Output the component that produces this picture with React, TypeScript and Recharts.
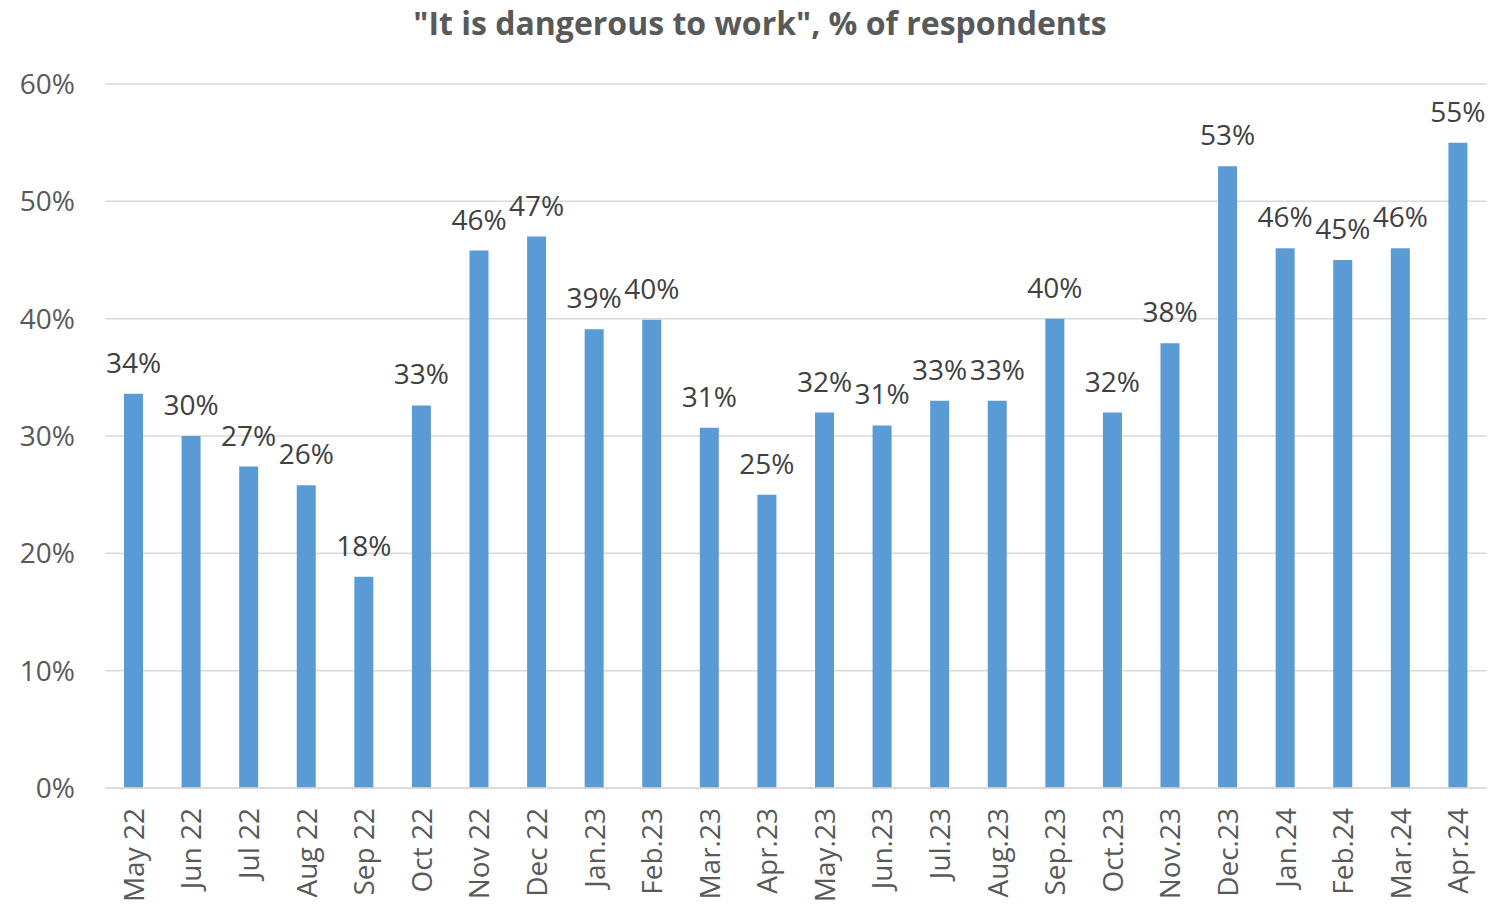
import { BarChart, Bar, XAxis, YAxis, CartesianGrid, LabelList } from 'recharts';

const months = [
  'May 22', 'Jun 22', 'Jul 22', 'Aug 22', 'Sep 22', 'Oct 22', 'Nov 22', 'Dec 22',
  'Jan.23', 'Feb.23', 'Mar.23', 'Apr.23', 'May.23', 'Jun.23', 'Jul.23', 'Aug.23',
  'Sep.23', 'Oct.23', 'Nov.23', 'Dec.23', 'Jan.24', 'Feb.24', 'Mar.24', 'Apr.24',
];

// share of respondents, %
const dangerous = [
  33.6, 30.0, 27.4, 25.8, 18.0, 32.6, 45.8, 47.0,
  39.1, 39.9, 30.7, 25.0, 32.0, 30.9, 33.0, 33.0,
  40.0, 32.0, 37.9, 53.0, 46.0, 45.0, 46.0, 55.0,
];

const yTicks = [0, 10, 20, 30, 40, 50, 60];

const data = months.map((m, i) => ({ month: m, value: dangerous[i] }));

const FONT = "'Open Sans', 'Noto Sans', sans-serif";

function MonthTick(props: any) {
  const { x, y, payload } = props;
  return (
    <text
      transform={`translate(${x},${y + 12}) rotate(-90)`}
      textAnchor="end"
      dy="0.36em"
      fill="#595959"
      fontSize={28}
      fontFamily={FONT}
    >
      {payload.value}
    </text>
  );
}

export default function App() {
  return (
    <div style={{ position: 'relative', width: 1504, height: 906, background: '#fff' }}>
      <style>{'body{margin:0}'}</style>
      <div
        style={{
          position: 'absolute',
          top: 1,
          left: 0,
          width: 1504,
          paddingLeft: 16,
          boxSizing: 'border-box',
          textAlign: 'center',
          fontFamily: FONT,
          fontWeight: 700,
          fontSize: 32,
          color: '#595959',
        }}
      >
        "It is dangerous to work", % of respondents
      </div>
      <BarChart
        width={1504}
        height={906}
        data={data}
        margin={{ top: 84, right: 17, bottom: 0, left: 0 }}
        barCategoryGap={0}
      >
        <CartesianGrid vertical={false} stroke="#d9d9d9" strokeWidth={1.5} />
        <XAxis
          dataKey="month"
          interval={0}
          height={118}
          tickLine={false}
          axisLine={{ stroke: '#d9d9d9', strokeWidth: 1.5 }}
          tick={<MonthTick />}
        />
        <YAxis
          domain={[0, 60]}
          ticks={yTicks}
          width={105}
          axisLine={false}
          tickLine={false}
          tickMargin={24}
          tickFormatter={(v) => `${v}%`}
          tick={{ fontSize: 28, fill: '#595959', fontFamily: FONT }}
        />
        <Bar dataKey="value" fill="#5b9bd5" barSize={19} isAnimationActive={false}>
          <LabelList
            dataKey="value"
            position="top"
            offset={21}
            formatter={(v: any) => `${Math.round(Number(v))}%`}
            fill="#404040"
            fontSize={28}
            fontFamily={FONT}
          />
        </Bar>
      </BarChart>
    </div>
  );
}
